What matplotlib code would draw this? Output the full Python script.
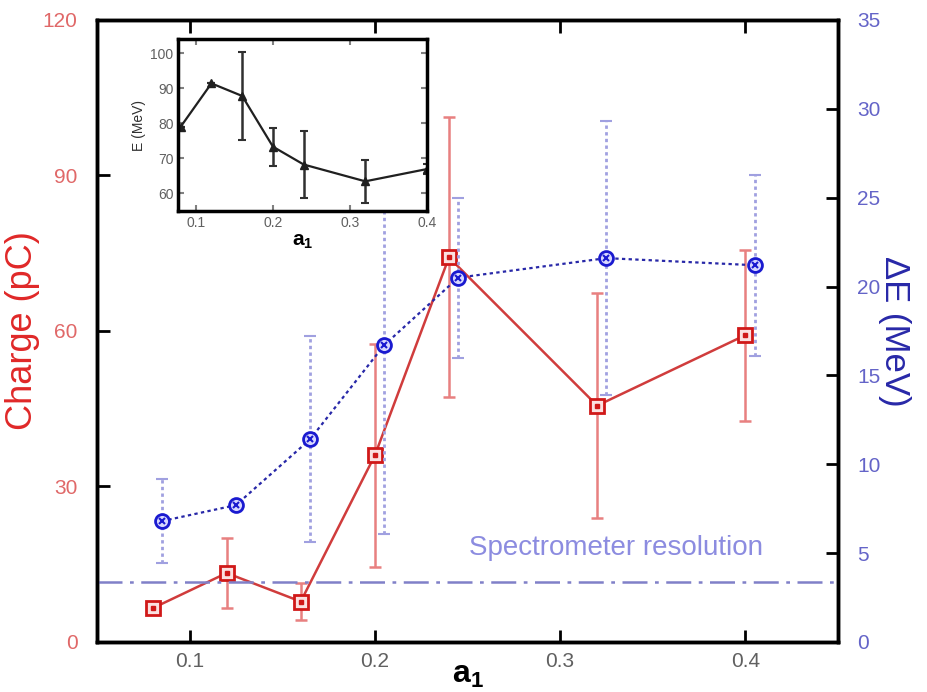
import matplotlib
matplotlib.use('Agg')
import matplotlib.pyplot as plt
import numpy as np

plt.rcParams['font.family'] = ['Liberation Sans', 'DejaVu Sans']
plt.rcParams['mathtext.fontset'] = 'custom'
plt.rcParams['mathtext.rm'] = 'Liberation Sans'
plt.rcParams['mathtext.bf'] = 'Liberation Sans:bold'

# charge vs a1 (left axis)
a1_charge = [0.08, 0.12, 0.16, 0.20, 0.24, 0.32, 0.40]
charge = [6.5, 13.3, 7.8, 36.0, 74.2, 45.6, 59.2]
charge_err = [0.0, 6.7, 3.5, 21.5, 27.0, 21.7, 16.5]

# energy spread vs a1 (right axis)
a1_spread = [0.085, 0.125, 0.165, 0.205, 0.245, 0.325, 0.405]
spread = [6.8, 7.7, 11.4, 16.7, 20.5, 21.6, 21.2]
spread_err = [2.35, 0.0, 5.8, 10.6, 4.5, 7.7, 5.1]

# peak energy vs a1 (inset)
a1_energy = [0.08, 0.12, 0.16, 0.20, 0.24, 0.32, 0.40]
energy = [79.0, 91.4, 87.8, 73.3, 68.2, 63.4, 66.9]
energy_err = [0.0, 0.0, 12.7, 5.4, 9.5, 6.1, 1.5]

resolution = 3.4  # MeV

red = "#d03c3c"
red_light = "#e88080"
blue = "#2828a8"
blue_light = "#a0a0e0"
grey = "#606060"

fig = plt.figure(figsize=(9.27, 6.92), dpi=100)
ax = fig.add_axes([0.1046, 0.0723, 0.7994, 0.8988])
ax2 = ax.twinx()

# red: charge
ax.errorbar(a1_charge, charge, yerr=charge_err, fmt="none", ecolor=red_light,
            elinewidth=1.8, capsize=4, capthick=1.8, zorder=2)
ax.plot(a1_charge, charge, "-", color=red, lw=1.8, zorder=3)
ax.plot(a1_charge, charge, "s", ms=10, mfc="#fbe0e0", mec="#d01818", mew=2.0, zorder=4)
ax.plot(a1_charge, charge, "s", ms=2.5, mfc="#d01818", mec="#d01818", zorder=5)

# blue: energy spread
ax2.errorbar(a1_spread, spread, yerr=spread_err, fmt="none", ecolor=blue_light,
             elinewidth=2.0, capsize=4, capthick=1.5, zorder=2)
for line in ax2.containers[-1].lines[2]:
    line.set_linestyle((0, (1.2, 1.2)))
ax2.plot(a1_spread, spread, linestyle=(0, (1.5, 1.5)), color=blue, lw=1.6, zorder=3)
ax2.plot(a1_spread, spread, "o", ms=10, mfc="#d8d8ff", mec="#1a1ad0", mew=2.0, zorder=4)
ax2.plot(a1_spread, spread, "x", ms=5, mec="#1a1ad0", mew=1.5, zorder=5)

# spectrometer resolution
ax2.axhline(resolution, color="#8080c8", lw=1.8, dashes=(10, 3, 1.5, 3))
ax2.text(0.251, 5.3, "Spectrometer resolution", color="#8c8ce0", fontsize=20,
         ha="left", va="center")

ax.set_xlim(0.05, 0.45)
ax.set_ylim(0, 120)
ax2.set_ylim(0, 35)
ax.set_xticks([0.1, 0.2, 0.3, 0.4])
ax.set_xticklabels(["0.1", "0.2", "0.3", "0.4"])
ax.set_yticks([0, 30, 60, 90, 120])
ax2.set_yticks(np.arange(0, 36, 5))

ax.tick_params(axis="x", direction="in", length=9, width=2, top=True,
               labelsize=15, labelcolor=grey, pad=7)
ax.tick_params(axis="y", direction="in", length=9, width=2, right=False,
               labelsize=15, labelcolor="#e06868", pad=14)
ax2.tick_params(axis="y", direction="in", length=9, width=2,
                labelsize=15, labelcolor="#6464c8", pad=14)
for a in (ax, ax2):
    for sp in a.spines.values():
        sp.set_linewidth(2.5)

ax.set_xlabel("a$_\\mathbf{1}$", fontsize=23, fontweight="bold", labelpad=-8)
ax.set_ylabel("Charge (pC)", fontsize=26, color="#e02828", labelpad=2)
ax2.set_ylabel("ΔE (MeV)", fontsize=25, color=blue, rotation=-90, labelpad=22)

# inset: peak energy
ins = fig.add_axes([0.1924, 0.6955, 0.268, 0.2477])
ins.set_facecolor("white")
ins.errorbar(a1_energy, energy, yerr=energy_err, fmt="-^", color="#202020",
             ecolor="#303030", elinewidth=1.8, capsize=3, capthick=1.5,
             ms=6, lw=1.6)
ins.set_xlim(0.077, 0.40)
ins.set_ylim(55, 104)
ins.set_xticks([0.1, 0.2, 0.3, 0.4])
ins.set_xticklabels(["0.1", "0.2", "0.3", "0.4"])
ins.set_yticks([60, 70, 80, 90, 100])
ins.tick_params(direction="in", length=4, width=1.5, top=True, right=True,
                labelsize=10, colors="#808080")
ins.tick_params(labelcolor=grey)
for sp in ins.spines.values():
    sp.set_linewidth(2.5)
ins.set_ylabel("E (MeV)", fontsize=10, color="#303030", labelpad=3)
ins.set_xlabel("a$_\\mathbf{1}$", fontsize=15, fontweight="bold", labelpad=2)

fig.savefig("out.png", dpi=100)
plt.close(fig)
